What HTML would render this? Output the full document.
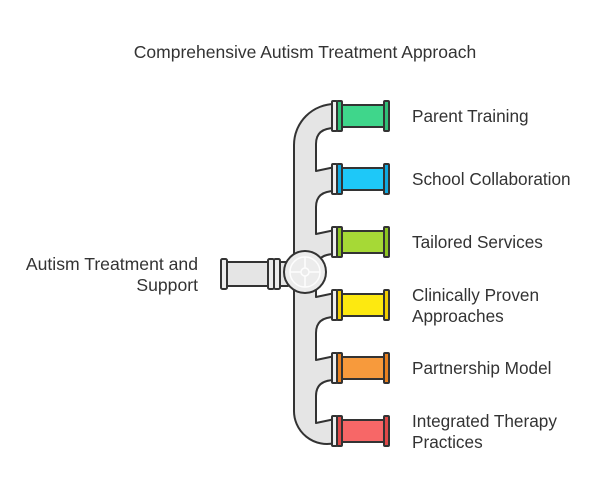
<!DOCTYPE html>
<html><head><meta charset="utf-8"><style>
body{margin:0;background:#fff;width:600px;height:495px;overflow:hidden}
text{font-family:"Liberation Sans",sans-serif;fill:#333}
</style></head><body>
<svg width="600" height="495" viewBox="0 0 600 495" xmlns="http://www.w3.org/2000/svg">
<text x="305" y="58" font-size="17.5" text-anchor="middle">Comprehensive Autism Treatment Approach</text>
<g stroke="#333" stroke-width="2" stroke-linejoin="round">
<path fill="#e5e5e5" d="M335,104 A41,41 0 0 0 294,145 L294,410 A33,33 0 0 0 335,443 L335,419
 L316,423 L316,396 Q316,380 335,380 L335,356
 L316,360 L316,333 Q316,317 335,317 L335,293
 L316,297 L316,270 Q316,254 335,254 L335,230
 L316,234 L316,207 Q316,191 335,191 L335,167
 L316,171 L316,144 Q316,128 335,128 Z"/>
<rect x="226" y="262" width="46" height="24" fill="#e5e5e5"/>
<rect x="221" y="259" width="6" height="30" rx="1.5" fill="#ececec"/>
<rect x="268" y="259" width="6" height="30" rx="1.5" fill="#ececec"/>
<rect x="274" y="259" width="6" height="30" rx="1.5" fill="#ececec"/>
<rect x="280" y="262" width="8" height="24" fill="#e5e5e5"/>
<circle cx="305" cy="272" r="21" fill="#ececec"/>
</g>
<g stroke="#fff" stroke-width="1.5" fill="none" opacity="0.9">
<circle cx="305" cy="272" r="15"/><circle cx="305" cy="272" r="4"/>
<path d="M305,257V268M305,276V287M290,272H301M309,272H320"/>
</g>
<g stroke="#333" stroke-width="2">
<g transform="translate(0,116)"><rect x="341" y="-11" width="44" height="22" fill="#3fd68b"/><rect x="332" y="-15" width="5" height="30" rx="1" fill="#eee"/><rect x="337" y="-15" width="5" height="30" rx="1" fill="#2fc077"/><rect x="384" y="-15" width="5" height="30" rx="1" fill="#2fc077"/></g>
<g transform="translate(0,179)"><rect x="341" y="-11" width="44" height="22" fill="#1ec8f8"/><rect x="332" y="-15" width="5" height="30" rx="1" fill="#eee"/><rect x="337" y="-15" width="5" height="30" rx="1" fill="#10a9e0"/><rect x="384" y="-15" width="5" height="30" rx="1" fill="#10a9e0"/></g>
<g transform="translate(0,242)"><rect x="341" y="-11" width="44" height="22" fill="#a6d936"/><rect x="332" y="-15" width="5" height="30" rx="1" fill="#eee"/><rect x="337" y="-15" width="5" height="30" rx="1" fill="#8cc420"/><rect x="384" y="-15" width="5" height="30" rx="1" fill="#8cc420"/></g>
<g transform="translate(0,305)"><rect x="341" y="-11" width="44" height="22" fill="#fde910"/><rect x="332" y="-15" width="5" height="30" rx="1" fill="#eee"/><rect x="337" y="-15" width="5" height="30" rx="1" fill="#f0cc00"/><rect x="384" y="-15" width="5" height="30" rx="1" fill="#f0cc00"/></g>
<g transform="translate(0,368)"><rect x="341" y="-11" width="44" height="22" fill="#f79a3c"/><rect x="332" y="-15" width="5" height="30" rx="1" fill="#eee"/><rect x="337" y="-15" width="5" height="30" rx="1" fill="#e8801f"/><rect x="384" y="-15" width="5" height="30" rx="1" fill="#e8801f"/></g>
<g transform="translate(0,431)"><rect x="341" y="-11" width="44" height="22" fill="#f76767"/><rect x="332" y="-15" width="5" height="30" rx="1" fill="#eee"/><rect x="337" y="-15" width="5" height="30" rx="1" fill="#e04848"/><rect x="384" y="-15" width="5" height="30" rx="1" fill="#e04848"/></g>
</g>
<g font-size="17.2">
<text x="412" y="122">Parent Training</text>
<text x="412" y="185">School Collaboration</text>
<text x="412" y="248">Tailored Services</text>
<text x="412" y="301">Clinically Proven</text>
<text x="412" y="322">Approaches</text>
<text x="412" y="374">Partnership Model</text>
<text x="412" y="427">Integrated Therapy</text>
<text x="412" y="448">Practices</text>
<text x="198" y="270" text-anchor="end" font-size="17.6">Autism Treatment and</text>
<text x="198" y="291" text-anchor="end" font-size="17.6">Support</text>
</g>
</svg>
</body></html>
